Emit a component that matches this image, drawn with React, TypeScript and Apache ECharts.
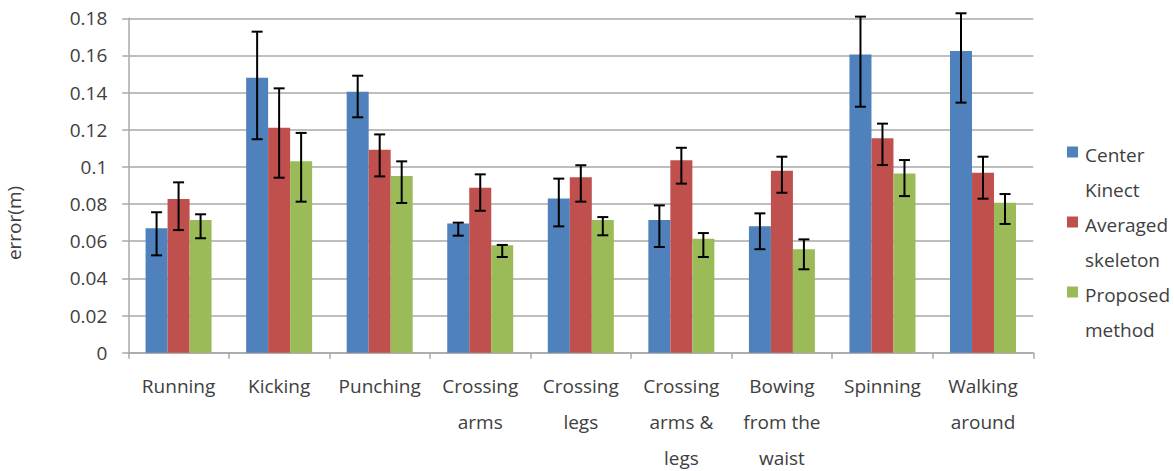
import React, { useEffect, useRef } from "react";
import * as echarts from "echarts";

// Motion categories (line breaks as printed under the axis)
const categories = [
  "Running",
  "Kicking",
  "Punching",
  "Crossing\narms",
  "Crossing\nlegs",
  "Crossing\narms &\nlegs",
  "Bowing\nfrom the\nwaist",
  "Spinning",
  "Walking\naround",
];

const seriesNames = ["Center\nKinect", "Averaged\nskeleton", "Proposed\nmethod"];
const seriesColors = ["#4F81BD", "#C0504D", "#9BBB59"];

// Mean error (m)
const centerKinect = [0.067, 0.148, 0.1405, 0.0695, 0.083, 0.0714, 0.068, 0.1605, 0.1624];
const averagedSkeleton = [0.0827, 0.1211, 0.1093, 0.0888, 0.0944, 0.1036, 0.098, 0.1154, 0.0969];
const proposedMethod = [0.0714, 0.103, 0.0951, 0.0578, 0.0714, 0.0614, 0.0557, 0.0964, 0.0807];

// Error bar bounds (m)
const centerKinectLow = [0.0524, 0.1149, 0.1267, 0.063, 0.068, 0.0569, 0.0557, 0.1324, 0.1346];
const centerKinectHigh = [0.0756, 0.1728, 0.1491, 0.07, 0.0937, 0.0793, 0.075, 0.1809, 0.1827];
const averagedSkeletonLow = [0.066, 0.0942, 0.0949, 0.0764, 0.0813, 0.091, 0.0861, 0.101, 0.0829];
const averagedSkeletonHigh = [0.0917, 0.1423, 0.1175, 0.096, 0.1009, 0.1103, 0.1055, 0.1233, 0.1055];
const proposedMethodLow = [0.0616, 0.0813, 0.0806, 0.0515, 0.0632, 0.0515, 0.0449, 0.0843, 0.0693];
const proposedMethodHigh = [0.0745, 0.1183, 0.103, 0.058, 0.073, 0.0644, 0.061, 0.1037, 0.0854];

const yTicks = [0, 0.02, 0.04, 0.06, 0.08, 0.1, 0.12, 0.14, 0.16, 0.18];

const BAR_WIDTH = 22;
const FONT = "'Open Sans', 'Noto Sans', sans-serif";
const TEXT_COLOR = "#404040";
const GRID_COLOR = "#a8a8a8";

function errorBarSeries(low: number[], high: number[], offset: number) {
  return {
    type: "custom",
    z: 10,
    silent: true,
    encode: { x: 0, y: [1, 2] },
    data: low.map((l, i) => [i, l, high[i]]),
    renderItem: (_params: any, api: any) => {
      const idx = api.value(0);
      const lowPt = api.coord([idx, api.value(1)]);
      const highPt = api.coord([idx, api.value(2)]);
      const x = lowPt[0] + offset;
      const cap = 5.5;
      const style = { stroke: "#000", lineWidth: 2 };
      return {
        type: "group",
        children: [
          { type: "line", shape: { x1: x, y1: highPt[1], x2: x, y2: lowPt[1] }, style },
          { type: "line", shape: { x1: x - cap, y1: highPt[1], x2: x + cap, y2: highPt[1] }, style },
          { type: "line", shape: { x1: x - cap, y1: lowPt[1], x2: x + cap, y2: lowPt[1] }, style },
        ],
      };
    },
  };
}

// Legend with the swatch beside the first line of each two-line entry
function legendGraphics() {
  const items: any[] = [];
  seriesNames.forEach((name, i) => {
    const cy = 152 + 70 * i;
    items.push({
      type: "rect",
      shape: { x: 1067, y: cy - 5.5, width: 11, height: 11 },
      style: { fill: seriesColors[i] },
    });
    items.push({
      type: "text",
      x: 1085,
      y: cy + 3 - 17.5,
      style: {
        text: name,
        font: `19px ${FONT}`,
        lineHeight: 35,
        fill: TEXT_COLOR,
        align: "left",
        verticalAlign: "top",
      },
    });
  });
  return items;
}

export default function App() {
  const ref = useRef<HTMLDivElement>(null);

  useEffect(() => {
    if (!ref.current) return;
    const chart = echarts.init(ref.current, null, { renderer: "svg" });
    const values = [centerKinect, averagedSkeleton, proposedMethod];

    chart.setOption({
      animation: false,
      textStyle: { fontFamily: FONT },
      grid: {
        left: 128.3,
        top: 18.3,
        width: 905,
        height: 334.4,
        containLabel: false,
        outerBoundsMode: "none",
      },
      xAxis: {
        type: "category",
        data: categories,
        axisLine: { show: true, lineStyle: { color: GRID_COLOR, width: 1.5 } },
        axisTick: { show: true, length: 6, lineStyle: { color: GRID_COLOR, width: 1.5 } },
        axisLabel: {
          interval: 0,
          margin: 15,
          fontSize: 19,
          lineHeight: 36,
          color: TEXT_COLOR,
        },
      },
      yAxis: {
        type: "value",
        min: 0,
        max: 0.18,
        interval: 0.02,
        axisLine: { show: true, lineStyle: { color: GRID_COLOR, width: 1.5 } },
        axisTick: { show: true, length: 6, lineStyle: { color: GRID_COLOR, width: 1.5 } },
        splitLine: { show: true, lineStyle: { color: GRID_COLOR, width: 1.5 } },
        axisLabel: {
          margin: 21,
          fontSize: 19,
          color: TEXT_COLOR,
          formatter: (v: number) => {
            const t = yTicks.find((y) => Math.abs(y - v) < 1e-9);
            return String(Number((t ?? v).toFixed(2)));
          },
        },
      },
      graphic: [
        {
          type: "text",
          x: 14,
          y: 223,
          rotation: Math.PI / 2,
          style: {
            text: "error(m)",
            font: `19px ${FONT}`,
            fill: TEXT_COLOR,
            align: "center",
            verticalAlign: "middle",
          },
        },
        ...legendGraphics(),
      ],
      series: [
        ...values.map((vals, i) => ({
          name: seriesNames[i],
          type: "bar",
          data: vals,
          barWidth: BAR_WIDTH,
          barGap: "0%",
          itemStyle: { color: seriesColors[i] },
        })),
        errorBarSeries(centerKinectLow, centerKinectHigh, -BAR_WIDTH),
        errorBarSeries(averagedSkeletonLow, averagedSkeletonHigh, 0),
        errorBarSeries(proposedMethodLow, proposedMethodHigh, BAR_WIDTH),
      ],
    });

    return () => chart.dispose();
  }, []);

  return (
    <div
      ref={ref}
      style={{ position: "absolute", left: 0, top: 0, width: 1174, height: 471 }}
    />
  );
}
